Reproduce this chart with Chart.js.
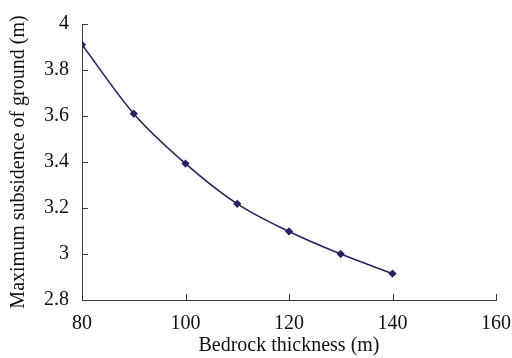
<!DOCTYPE html>
<html>
<head>
<meta charset="utf-8">
<script src="https://cdn.jsdelivr.net/npm/chart.js@4/dist/chart.umd.min.js"></script>
<style>
html,body{margin:0;padding:0;background:#fff;}
#wrap{width:512px;height:358px;}
</style>
</head>
<body>
<div id="wrap"><canvas id="c" width="512" height="358"></canvas></div>
<script>
const thickness = [80, 90, 100, 110, 120, 130, 140];
const subsidence = [3.91, 3.61, 3.393, 3.218, 3.098, 3.0, 2.915];
const xTicks = [80, 100, 120, 140, 160];
const yTicks = [2.8, 3.0, 3.2, 3.4, 3.6, 3.8, 4.0];
const xTitle = 'Bedrock thickness (m)';
const yTitle = 'Maximum subsidence of ground (m)';

const FONT = "'Liberation Serif', 'Times New Roman', serif";
const AXIS = '#3a3a3a';

const inwardTicks = {
  id: 'inwardTicks',
  afterDraw(chart) {
    const ctx = chart.ctx, a = chart.chartArea;
    const xs = chart.scales.x, ys = chart.scales.y;
    ctx.save();
    ctx.strokeStyle = AXIS;
    ctx.lineWidth = 1;
    ctx.beginPath();
    xTicks.forEach(v => {
      const px = Math.round(xs.getPixelForValue(v)) + 0.5;
      ctx.moveTo(px, a.bottom);
      ctx.lineTo(px, a.bottom - 6);
    });
    yTicks.forEach(v => {
      const py = Math.round(ys.getPixelForValue(v)) + 0.5;
      ctx.moveTo(a.left, py);
      ctx.lineTo(a.left + 6, py);
    });
    ctx.stroke();
    ctx.restore();
  }
};

new Chart(document.getElementById('c'), {
  type: 'scatter',
  data: {
    datasets: [{
      data: thickness.map((x, i) => ({x: x, y: subsidence[i]})),
      showLine: true,
      borderColor: '#27235f',
      backgroundColor: '#27235f',
      borderWidth: 1.6,
      pointStyle: 'rectRot',
      pointRadius: 3,
      pointHoverRadius: 3,
      cubicInterpolationMode: 'monotone'
    }]
  },
  options: {
    responsive: false,
    animation: false,
    events: [],
    layout: {autoPadding: false, padding: {top: 24, right: 16, left: 0, bottom: 0}},
    plugins: {legend: {display: false}, tooltip: {enabled: false}},
    scales: {
      x: {
        type: 'linear',
        min: 80, max: 160,
        afterBuildTicks: s => { s.ticks = xTicks.map(v => ({value: v})); },
        afterFit: s => { s.height = 58; s.paddingLeft = 0; s.paddingRight = 0; },
        grid: {display: true, drawOnChartArea: false, drawTicks: false},
        border: {display: true, color: AXIS, width: 1},
        ticks: {
          color: '#111',
          font: {family: FONT, size: 20},
          padding: 12,
          maxRotation: 0,
          callback: v => String(v)
        },
        title: {
          display: true, text: xTitle, color: '#111',
          font: {family: FONT, size: 20},
          padding: {top: 0, bottom: 0}
        }
      },
      y: {
        type: 'linear',
        min: 2.8, max: 4.0,
        afterBuildTicks: s => { s.ticks = yTicks.map(v => ({value: v})); },
        afterFit: s => { s.width = 82; s.paddingTop = 0; s.paddingBottom = 0; },
        grid: {display: true, drawOnChartArea: false, drawTicks: false},
        border: {display: true, color: AXIS, width: 1},
        ticks: {
          color: '#111',
          font: {family: FONT, size: 20},
          padding: 13,
          callback: v => String(Math.round(v * 10) / 10)
        },
        title: {
          display: true, text: yTitle, color: '#111',
          font: {family: FONT, size: 20},
          padding: {top: 7, bottom: 0}
        }
      }
    }
  },
  plugins: [inwardTicks]
});
</script>
</body>
</html>
